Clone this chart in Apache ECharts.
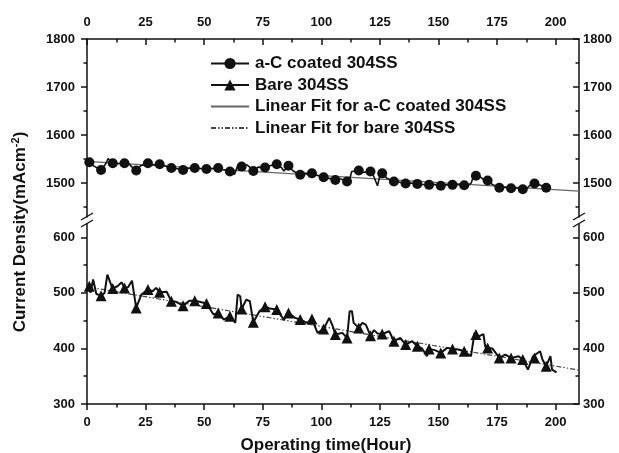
<!DOCTYPE html>
<html>
<head>
<meta charset="utf-8">
<script src="https://cdn.jsdelivr.net/npm/echarts@6/dist/echarts.min.js"></script>
<style>
  html, body { margin: 0; padding: 0; background: #fff; }
  #chart { width: 619px; height: 453px; }
</style>
</head>
<body>
<div id="chart"></div>
<script>
// a-C coated 304SS: current density (mA cm^-2) vs operating time (h)
const coatedHours = [0, 1, 3, 6, 8, 9, 10, 11, 13, 16, 18, 19, 21, 23, 26, 28, 31, 33, 36, 38, 41, 43, 46, 48, 51, 53, 56, 58, 61, 63, 64, 66, 68, 69, 71, 73, 76, 78, 81, 83, 84, 86, 88, 91, 93, 96, 98, 101, 103, 106, 108, 111, 112, 113, 116, 118, 121, 122, 124, 125, 126, 128, 131, 133, 136, 138, 141, 143, 146, 148, 151, 153, 156, 158, 161, 163, 164, 165, 166, 168, 170, 171, 173, 176, 178, 181, 183, 186, 188, 190, 191, 193, 196, 198];
const coatedValues = [1545, 1543, 1535, 1527, 1540, 1551, 1545, 1541, 1540, 1541, 1540, 1534, 1526, 1536, 1541, 1538, 1539, 1536, 1531, 1530, 1527, 1530, 1531, 1530, 1529, 1530, 1531, 1528, 1524, 1518, 1532, 1534, 1538, 1535, 1525, 1533, 1532, 1536, 1539, 1532, 1525, 1536, 1525, 1517, 1520, 1520, 1516, 1512, 1510, 1506, 1509, 1503, 1506, 1524, 1526, 1522, 1524, 1518, 1494, 1515, 1520, 1510, 1503, 1502, 1499, 1500, 1498, 1497, 1496, 1497, 1494, 1496, 1496, 1497, 1495, 1496, 1500, 1515, 1515, 1512, 1504, 1505, 1497, 1490, 1491, 1489, 1490, 1487, 1490, 1500, 1499, 1496, 1490, 1489];
// sampled points drawn with circle markers
const coatedMarkHours = [1, 6, 11, 16, 21, 26, 31, 36, 41, 46, 51, 56, 61, 66, 71, 76, 81, 86, 91, 96, 101, 106, 111, 116, 121, 126, 131, 136, 141, 146, 151, 156, 161, 166, 171, 176, 181, 186, 191, 196];
const coatedMarkValues = [1543, 1527, 1541, 1541, 1526, 1541, 1539, 1531, 1527, 1531, 1529, 1531, 1524, 1534, 1525, 1532, 1539, 1536, 1517, 1520, 1512, 1506, 1503, 1526, 1524, 1520, 1503, 1499, 1498, 1496, 1494, 1496, 1495, 1515, 1505, 1490, 1489, 1487, 1499, 1490];

// Bare 304SS
const bareHours = [0, 1, 1.5, 2.6, 4, 6, 7.5, 8.7, 10.5, 11, 13, 14.8, 16, 17.5, 19.2, 21, 23.2, 26, 28, 29.5, 31, 34, 36, 38, 41, 43.8, 46, 48, 51, 54, 56, 58.4, 61, 63.3, 64.3, 65.4, 66, 68, 69.5, 71, 73.6, 76, 78, 81, 84, 86, 88.8, 91, 94, 96, 98.4, 101, 103.4, 104.8, 106, 109, 111, 112.1, 113.1, 113.8, 116, 117.5, 119, 121, 122.5, 124, 126, 129, 131, 133.7, 136, 138.8, 141, 143, 145.1, 146, 148.5, 151, 153.7, 156, 158.5, 161, 163.9, 165.4, 166, 167.5, 169.2, 170, 171, 173, 176, 178.5, 181, 182.5, 184.2, 186, 188.2, 190.4, 191, 193.4, 194.4, 196, 197.8, 198.5, 200.4];
const bareValues = [515, 512, 500, 524, 498, 495, 500, 533, 512, 508, 512, 519, 509, 510, 522, 473, 497, 506, 503, 509, 501, 502, 485, 484, 477, 486, 486, 484, 481, 461, 464, 452, 458, 446, 497, 494, 471, 488, 485, 447, 467, 475, 472, 470, 452, 464, 455, 452, 446, 453, 428, 435, 455, 441, 425, 428, 419, 467, 467, 446, 437, 446, 443, 423, 433, 427, 426, 431, 413, 419, 407, 413, 404, 400, 386, 399, 397, 392, 401, 399, 398, 395, 386, 428, 425, 422, 426, 403, 401, 400, 383, 389, 383, 384, 386, 380, 362, 386, 383, 395, 380, 368, 386, 362, 357];
const bareMarkHours = [1, 6, 11, 16, 21, 26, 31, 36, 41, 46, 51, 56, 61, 66, 71, 76, 81, 86, 91, 96, 101, 106, 111, 116, 121, 126, 131, 136, 141, 146, 151, 156, 161, 166, 171, 176, 181, 186, 191, 196];
const bareMarkValues = [512, 495, 508, 509, 473, 506, 501, 485, 477, 486, 481, 464, 458, 471, 447, 475, 470, 464, 452, 453, 435, 425, 419, 437, 423, 426, 413, 407, 404, 399, 392, 399, 395, 425, 401, 383, 383, 380, 383, 368];

// Linear fits (end points)
const fitHours = [0, 210];
const coatedFit = [1545, 1483];
const bareFit = [511, 361];

// Axis ticks and labels
const hourMajor = [0, 25, 50, 75, 100, 125, 150, 175, 200];
const hourMinor = [12.5, 37.5, 62.5, 87.5, 112.5, 137.5, 162.5, 187.5];
const upperMajor = [1500, 1600, 1700, 1800];
const upperMinor = [1450, 1550, 1650, 1750];
const lowerMajor = [300, 400, 500, 600];
const lowerMinor = [350, 450, 550];

const legendNames = ['a-C coated 304SS', 'Bare 304SS', 'Linear Fit for a-C coated 304SS', 'Linear Fit for bare 304SS'];

const FONT = '"Liberation Sans", Arial, sans-serif';
const INK = '#111';

function zip(xs, ys) { return xs.map((x, i) => [x, ys[i]]); }
const plain = v => String(v);

const chart = echarts.init(document.getElementById('chart'), null, { renderer: 'canvas' });

const G0 = { left: 87, right: 40, top: 39, height: 178 };
const G1 = { left: 87, right: 40, top: 224, height: 180 };

function tickLabel(values, margin) {
  return { show: true, customValues: values, formatter: plain, margin: margin, color: INK, fontFamily: FONT, fontWeight: 'bold', fontSize: 13 };
}
function xAx(grid, pos, values, isMajor, inside) {
  return {
    type: 'value', gridIndex: grid, position: pos, min: 0, max: 210,
    axisLine: { show: isMajor, onZero: false, lineStyle: { color: INK, width: 1.5 } },
    axisTick: { show: true, inside: inside, length: isMajor ? 6 : 3.5, customValues: values, lineStyle: { color: INK, width: 1.5 } },
    axisLabel: isMajor ? tickLabel(values, pos === 'top' ? 10 : 12) : { show: false },
    splitLine: { show: false }
  };
}
function yAx(grid, pos, min, max, values, isMajor, inside) {
  return {
    type: 'value', gridIndex: grid, position: pos, min: min, max: max,
    axisLine: { show: isMajor, onZero: false, lineStyle: { color: INK, width: 1.5 } },
    axisTick: { show: true, inside: inside, length: isMajor ? 6 : 3.5, customValues: values, lineStyle: { color: INK, width: 1.5 } },
    axisLabel: isMajor ? tickLabel(values, pos === 'left' ? 12 : 4) : { show: false },
    splitLine: { show: false }
  };
}

const UMIN = 1429, UMAX = 1800, LMIN = 300, LMAX = 624;
const hiddenIcon = { color: 'rgba(0,0,0,0)', borderWidth: 0, opacity: 0 };

const option = {
  animation: false,
  backgroundColor: '#fff',
  grid: [G0, G1],
  xAxis: [
    xAx(0, 'top', hourMajor, true, true),
    xAx(0, 'top', hourMinor, false, true),
    xAx(1, 'bottom', hourMajor, true, false),
    xAx(1, 'bottom', hourMinor, false, false)
  ],
  yAxis: [
    yAx(0, 'left', UMIN, UMAX, upperMajor, true, false),
    yAx(0, 'left', UMIN, UMAX, upperMinor, false, false),
    yAx(0, 'right', UMIN, UMAX, upperMajor, true, true),
    yAx(0, 'right', UMIN, UMAX, upperMinor, false, true),
    yAx(1, 'left', LMIN, LMAX, lowerMajor, true, false),
    yAx(1, 'left', LMIN, LMAX, lowerMinor, false, false),
    yAx(1, 'right', LMIN, LMAX, lowerMajor, true, true),
    yAx(1, 'right', LMIN, LMAX, lowerMinor, false, true)
  ],
  legend: {
    orient: 'vertical', left: 210, top: 55, padding: 0, itemGap: 4.5,
    itemWidth: 38, itemHeight: 14,
    textStyle: { color: INK, fontFamily: FONT, fontWeight: 'bold', fontSize: 17, padding: [0, 0, 0, 1] },
    data: [
      { name: legendNames[0] },
      { name: legendNames[1] },
      { name: legendNames[2], itemStyle: hiddenIcon },
      { name: legendNames[3], itemStyle: hiddenIcon }
    ]
  },
  series: [
    {
      name: legendNames[2], type: 'line', xAxisIndex: 0, yAxisIndex: 0,
      data: zip(fitHours, coatedFit), symbol: 'none', silent: true, z: 2,
      lineStyle: { color: '#666', width: 1.2 }, itemStyle: { color: '#666' }
    },
    {
      name: legendNames[3], type: 'line', xAxisIndex: 2, yAxisIndex: 4,
      data: zip(fitHours, bareFit), symbol: 'none', silent: true, z: 2,
      lineStyle: { color: '#444', width: 1.2, type: [5, 2, 1.5, 2, 1.5, 2] }, itemStyle: { color: '#444' }
    },
    {
      name: legendNames[0], type: 'line', xAxisIndex: 0, yAxisIndex: 0,
      data: zip(coatedHours, coatedValues), symbol: 'circle', symbolSize: 10, showSymbol: false, z: 3,
      lineStyle: { color: INK, width: 1.6 }, itemStyle: { color: INK }
    },
    {
      name: 'coated markers', type: 'scatter', xAxisIndex: 0, yAxisIndex: 0,
      data: zip(coatedMarkHours, coatedMarkValues), symbol: 'circle', symbolSize: 10, z: 4,
      itemStyle: { color: INK, opacity: 1 }
    },
    {
      name: legendNames[1], type: 'line', xAxisIndex: 2, yAxisIndex: 4,
      data: zip(bareHours, bareValues), symbol: 'triangle', symbolSize: 11, showSymbol: false, z: 3,
      lineStyle: { color: INK, width: 2 }, itemStyle: { color: INK }
    },
    {
      name: 'bare markers', type: 'scatter', xAxisIndex: 2, yAxisIndex: 4,
      data: zip(bareMarkHours, bareMarkValues), symbol: 'triangle', symbolSize: 11, z: 4,
      itemStyle: { color: INK, opacity: 1 }
    }
  ],
  graphic: [
    // axis break marks
    { type: 'line', shape: { x1: 81, y1: 220, x2: 93, y2: 213 }, style: { stroke: INK, lineWidth: 1.4 } },
    { type: 'line', shape: { x1: 81, y1: 227, x2: 93, y2: 220 }, style: { stroke: INK, lineWidth: 1.4 } },
    { type: 'line', shape: { x1: 573, y1: 220, x2: 585, y2: 213 }, style: { stroke: INK, lineWidth: 1.4 } },
    { type: 'line', shape: { x1: 573, y1: 227, x2: 585, y2: 220 }, style: { stroke: INK, lineWidth: 1.4 } },
    // axis titles
    {
      type: 'text', x: 20, y: 232, rotation: Math.PI / 2,
      style: {
        text: 'Current Density(mAcm{sup|-2})', fill: INK, font: 'bold 17px ' + FONT,
        align: 'center', verticalAlign: 'middle',
        rich: { sup: { fontSize: 11, fontWeight: 'bold', fontFamily: FONT, fill: INK, padding: [0, 0, 9, 0] } }
      }
    },
    {
      type: 'text', x: 326, y: 445,
      style: { text: 'Operating time(Hour)', fill: INK, font: 'bold 17px ' + FONT, align: 'center', verticalAlign: 'middle' }
    }
  ]
};

chart.setOption(option);
</script>
</body>
</html>
